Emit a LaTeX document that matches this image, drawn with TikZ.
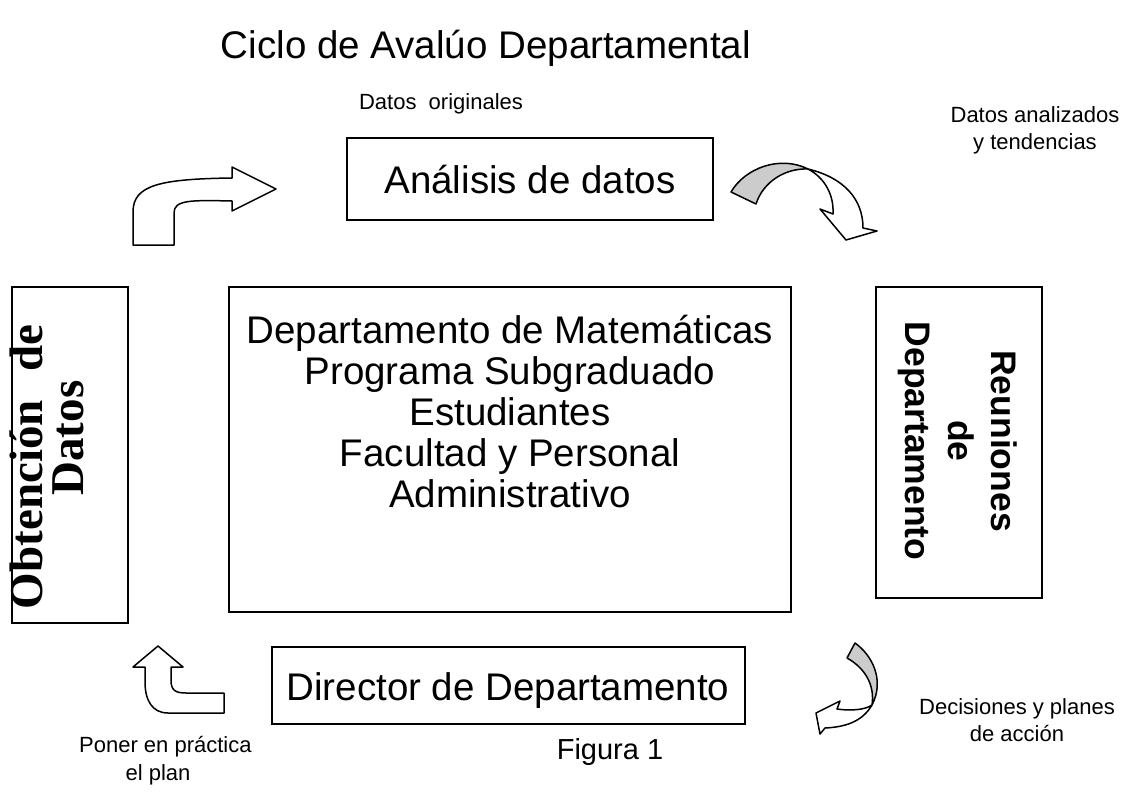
\documentclass[tikz,border=0pt]{standalone}
\usepackage{fontspec}
\setmainfont{Liberation Sans}
\newfontfamily\serifbold{Liberation Serif}
\definecolor{arrowgray}{RGB}{204,204,204}
\begin{document}
\begin{tikzpicture}[x=1pt,y=-1pt,
  box/.style={draw, line width=1.6pt, fill=white, inner sep=0pt},
  bigtxt/.style={font=\fontsize{38.5}{41}\selectfont, inner sep=0pt},
  smalltxt/.style={font=\fontsize{22}{27}\selectfont, align=center, inner sep=0pt},
  obttxt/.style={font=\serifbold\bfseries\fontsize{47}{47}\selectfont, rotate=90, anchor=base, inner sep=0pt},
  arrowline/.style={draw, line width=1.5pt, line join=round, fill=white},
  arrowshade/.style={draw, line width=1.5pt, line join=round, fill=arrowgray}]
\useasboundingbox (0,0) rectangle (1135,795);

% label partly hidden under the director box
\node[smalltxt, anchor=base west] (poner1) at (79,752) {Poner en práctica};
\node[smalltxt, anchor=base] (poner2) at (158,780) {el plan};

% boxes
\node[box, minimum width=366pt, minimum height=82pt] (analisisbox) at (530,179) {};
\node[box, minimum width=562pt, minimum height=325pt] (centralbox) at (510,449.5) {};
\node[box, minimum width=116pt, minimum height=336pt] (obtbox) at (70,455) {};
\node[box, minimum width=166pt, minimum height=311pt] (reubox) at (959,442.5) {};
\node[box, minimum width=473pt, minimum height=77pt] (dirbox) at (508.5,685.5) {};

% title and labels
\node[font=\fontsize{38.5}{41}\selectfont, inner sep=0pt, anchor=base] (title) at (486,58) {Ciclo de Avalúo Departamental};
\node[smalltxt] (datosorig) at (441,104) {Datos\ \ originales};
\node[smalltxt] (datosan) at (1035,130) {Datos analizados\\y tendencias};
\node[smalltxt] (decis) at (1017,720) {Decisiones y planes\\de acción};
\node[font=\fontsize{29}{29}\selectfont, inner sep=0pt, anchor=base] (figura) at (610,759) {Figura 1};

% box texts
\node[bigtxt, anchor=base] (analisis) at (530,193) {Análisis de datos};
\node[bigtxt, anchor=base, align=center] (central) at (510,507)
  {Departamento de Matemáticas\\Programa Subgraduado\\Estudiantes\\Facultad y Personal\\Administrativo};
\node[bigtxt, anchor=base] (director) at (508,700) {Director de Departamento};
\node[obttxt] (obt1) at (42,467) {Obtención\hspace{0.6em}de};
\node[obttxt] (obt2) at (83,438) {Datos};
\node[font=\bfseries\fontsize{35.5}{43}\selectfont, rotate=-90, align=center, inner sep=0pt] (reun) at (958,441) {Reuniones\\de\\Departamento};

% arrows
% top-left bent arrow
\path[arrowline] (133,245) -- (133,212) .. controls (133,185) and (160,179) .. (232,178)
  -- (232,167) -- (276,189) -- (232,211) -- (232,201)
  .. controls (190,200) and (174,200) .. (174,213) -- (174,245) -- cycle;
% bottom-left bent arrow
\path[arrowline] (224,693) -- (224,713) -- (168,713) .. controls (152,713) and (145,700) .. (145,682)
  -- (145,667) -- (133,667) -- (158,646) -- (183,667) -- (171,667) -- (171,680)
  .. controls (171,690) and (175,693) .. (186,693) -- cycle;
% top-right curved arrow
\path[arrowshade] (731,192) .. controls (745,168) and (780,155) .. (808,169)
  .. controls (785,168) and (763,182) .. (756,204) -- cycle;
\path[arrowline] (808,169) .. controls (845,178) and (863,200) .. (863,228)
  -- (877,231) -- (846,240) -- (820,209) -- (833,214)
  .. controls (834,195) and (825,178) .. (808,169) -- cycle;
% bottom-right curved arrow
\path[arrowshade] (847,658) -- (855,643) .. controls (872,655) and (885,680) .. (872,705)
  .. controls (875,685) and (865,668) .. (847,658) -- cycle;
\path[arrowline] (872,705) .. controls (862,722) and (845,727) .. (825,728)
  -- (820,734) -- (816,713) -- (840,701) -- (837,709)
  .. controls (850,711) and (865,710) .. (872,705) -- cycle;
\end{tikzpicture}
\end{document}
